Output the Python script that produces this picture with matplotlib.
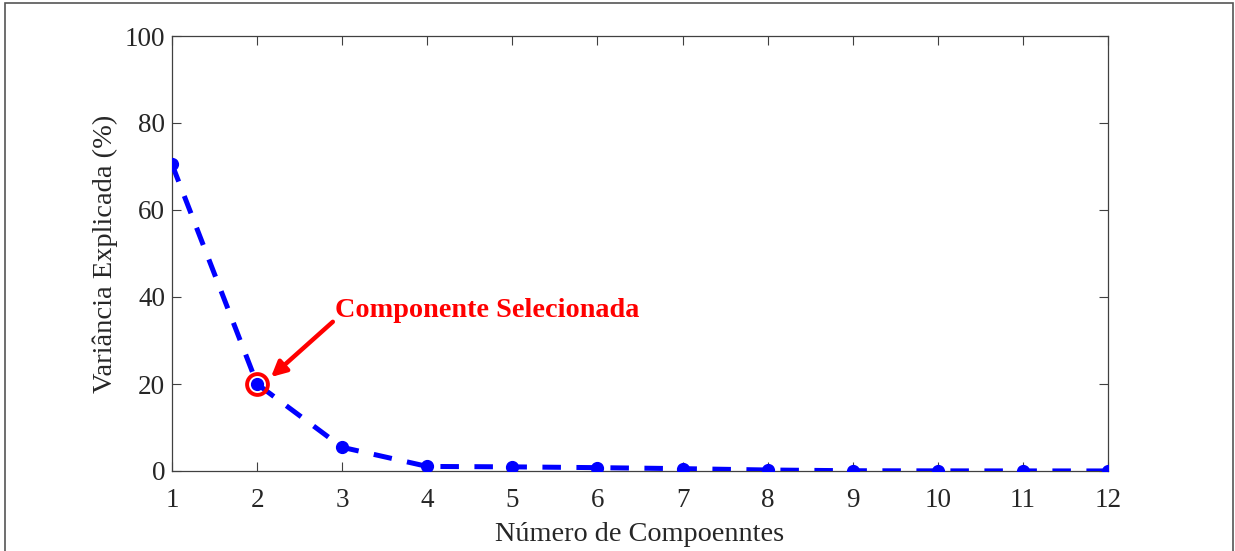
import matplotlib
matplotlib.use("Agg")
import matplotlib.pyplot as plt
from matplotlib.patches import Rectangle

plt.rcParams['font.family'] = ['Liberation Serif', 'DejaVu Serif']
plt.rcParams['mathtext.fontset'] = 'stix'

# Explained variance per principal component (%)
components = list(range(1, 13))
variance = [70.5, 20.0, 5.45, 1.05, 0.95, 0.77, 0.54, 0.23, 0.06, 0.03, 0.02, 0.01]
selected = 2
xticks = list(range(1, 13))
yticks = [0, 20, 40, 60, 80, 100]

W, H, DPI = 1235, 551, 100
fig = plt.figure(figsize=(W / DPI, H / DPI), dpi=DPI)
fig.patch.set_facecolor('white')

ax = fig.add_axes([172 / W, 1 - 471 / H, (1108 - 172) / W, (471 - 36) / H])

axis_color = '#404040'
text_color = '#262626'

ax.plot(components, variance, color='#0000ff', lw=3.6, ls='--', dashes=(3.7, 3.1),
        dash_capstyle='butt', marker='o', ms=8.5, mfc='#0000ff', mec='#0000ff', zorder=3)

# highlight the selected component
ax.plot([selected], [variance[selected - 1]], marker='o', ms=15, mfc='none',
        mec='#ff0000', mew=2.8, ls='none', zorder=4)

ax.annotate('', xy=(2.163, 21.6), xytext=(2.89, 34.3),
            arrowprops=dict(arrowstyle='-|>,head_length=0.9,head_width=0.45',
                            color='#ff0000', lw=3.2, shrinkA=0, shrinkB=0),
            zorder=5)
ax.text(2.915, 35.4, 'Componente Selecionada', color='#ff0000', fontsize=20.3,
        fontweight='bold', ha='left', va='baseline', zorder=5)

ax.set_xlim(1, 12)
ax.set_ylim(0, 100)
ax.set_xticks(xticks)
ax.set_yticks(yticks)
ax.tick_params(direction='in', length=6.5, width=0.8, color=axis_color,
               labelsize=19.5, labelcolor=text_color, top=True, right=True)
ax.tick_params(axis='y', pad=5)
ax.tick_params(axis='x', pad=12.5)
for s in ax.spines.values():
    s.set_color(axis_color)
    s.set_linewidth(0.9)

ax.set_xlabel('Número de Compoenntes', fontsize=20.3, color=text_color, labelpad=6.5)
ax.set_ylabel('Variância Explicada (%)', fontsize=20.5, color=text_color, labelpad=5)

# outer frame around the figure
fig.patches.append(Rectangle((5 / W, -0.05), (1233 - 5) / W, 1.05 - 3 / H,
                             transform=fig.transFigure, fill=False,
                             edgecolor='#555555', lw=1.2))

fig.savefig('out.png', dpi=DPI)
